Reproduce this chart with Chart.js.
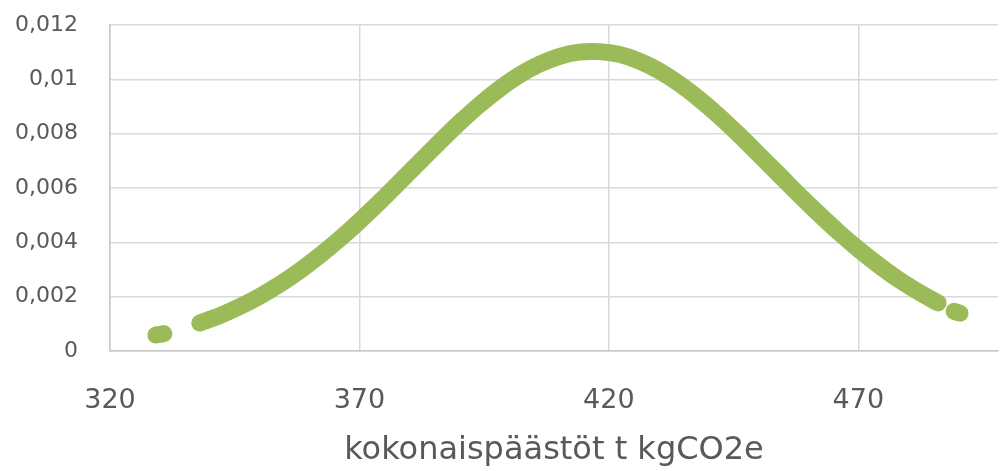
<!DOCTYPE html>
<html>
<head>
<meta charset="utf-8">
<script src="https://cdn.jsdelivr.net/npm/chart.js@4/dist/chart.umd.min.js"></script>
<style>
  html, body { margin: 0; padding: 0; background: #ffffff; }
  #wrap { width: 1000px; height: 471px; }
</style>
</head>
<body>
<div id="wrap"><canvas id="chart" width="1000" height="471"></canvas></div>
<script>
// Emission totals (t kgCO2e) and their probability density; null splits the curve into its pieces.
const emissions = [
  329.2, 330.8, null,
  338, 342, 346, 350, 354, 358, 362, 366, 370, 374, 378, 382, 386, 390, 394, 398,
  402, 406, 410, 414, 418, 422, 426, 430, 434, 438, 442, 446, 450, 454, 458, 462,
  466, 470, 474, 478, 482, 486, null,
  489.2, 490.4
];
const density = [
  0.00059, 0.00064, null,
  0.00103, 0.00130, 0.00163, 0.00201, 0.00245, 0.00295, 0.00351, 0.00412, 0.00478, 0.00548,
  0.00621, 0.00695, 0.00768, 0.00839, 0.00905, 0.00964, 0.01015, 0.01055, 0.01084, 0.01100,
  0.01102, 0.01092, 0.01068, 0.01032, 0.00985, 0.00929, 0.00866, 0.00797, 0.00724, 0.00651,
  0.00577, 0.00506, 0.00438, 0.00375, 0.00317, 0.00264, 0.00218, 0.00177, null,
  0.00146, 0.00139
];
const xTickValues = [320, 370, 420, 470];
const yTickValues = [0, 0.002, 0.004, 0.006, 0.008, 0.01, 0.012];
const xAxisTitle = 'kokonaispäästöt t kgCO2e';

const points = emissions.map((x, i) => ({ x: x === null ? (emissions[i - 1] + emissions[i + 1]) / 2 : x, y: density[i] }));

const textColor = '#595959';
const gridColor = '#d9d9d9';
const fontFamily = '"DejaVu Sans", "Open Sans", sans-serif';

new Chart(document.getElementById('chart'), {
  type: 'scatter',
  data: {
    datasets: [{
      data: points,
      showLine: true,
      spanGaps: false,
      borderColor: '#9bbb59',
      backgroundColor: '#9bbb59',
      borderWidth: 17,
      borderCapStyle: 'round',
      borderJoinStyle: 'round',
      tension: 0.3,
      pointRadius: 0,
      pointHoverRadius: 0
    }]
  },
  options: {
    responsive: false,
    animation: false,
    events: [],
    layout: { padding: { top: 25, right: 2, left: 0, bottom: 0 } },
    plugins: { legend: { display: false }, tooltip: { enabled: false } },
    scales: {
      x: {
        type: 'linear',
        min: 320,
        max: 498,
        afterBuildTicks: (scale) => { scale.ticks = xTickValues.map(v => ({ value: v })); },
        afterFit: (scale) => { scale.height = 120; },
        grid: { color: gridColor, lineWidth: 1.5, drawTicks: false },
        border: { color: '#c8c8c8', width: 1.5 },
        ticks: {
          padding: 34,
          color: textColor,
          font: { family: fontFamily, size: 27 },
          maxRotation: 0,
          callback: (v) => String(v)
        },
        title: {
          display: true,
          text: xAxisTitle,
          color: textColor,
          font: { family: fontFamily, size: 32 },
          padding: { top: 0, bottom: 1 }
        }
      },
      y: {
        type: 'linear',
        min: 0,
        max: 0.012,
        afterBuildTicks: (scale) => { scale.ticks = yTickValues.map(v => ({ value: v })); },
        afterFit: (scale) => {
          scale.width = 110;
          scale.paddingTop = 0;
          scale.paddingBottom = 0;
        },
        grid: { color: gridColor, lineWidth: 1.5, drawTicks: false },
        border: { color: '#c8c8c8', width: 1.5 },
        ticks: {
          padding: 32,
          color: textColor,
          font: { family: fontFamily, size: 22 },
          callback: (v) => String(Number(v.toFixed(3))).replace('.', ',')
        }
      }
    }
  }
});
</script>
</body>
</html>
